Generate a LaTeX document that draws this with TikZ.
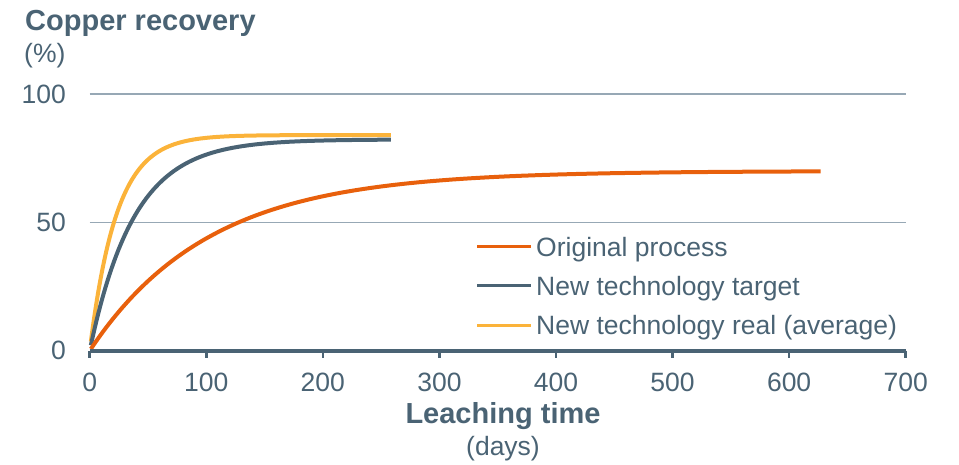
\documentclass[tikz,border=0pt]{standalone}
\usepackage{fontspec}
\setmainfont{Liberation Sans}
\definecolor{slate}{HTML}{4A6374}
\definecolor{rust}{HTML}{E8600C}
\definecolor{amber}{HTML}{FBB33A}
\definecolor{gridgrey}{HTML}{97A8B5}

\begin{document}
\begin{tikzpicture}[x=1pt,y=-1pt,
	every node/.style={text=slate,inner sep=0pt},
	label text/.style={font=\fontsize{26.5}{30}\selectfont},
	head text/.style={font=\fontsize{29}{33}\selectfont\bfseries},
	grid line/.style={draw=gridgrey,line width=1.5pt},
	axis line/.style={draw=slate,line width=4pt},
	tick line/.style={draw=slate,line width=2.5pt},
	curve/.style={line width=4pt},
	key line/.style={line width=3pt}]
\useasboundingbox (0,0) rectangle (959,465);
\node[head text,anchor=base west] (ytitle) at (25,31) {Copper recovery};
\node[label text,anchor=base west] (yunit) at (24,63) {(\%)};
\node[head text,anchor=base] (xtitle) at (503,423) {Leaching time};
\node[label text,anchor=base] (xunit) at (503,455) {(days)};
\begin{scope}[shift={(89.7,350.7)},x=1.1657pt,y=2.567pt]
	\foreach \v in {50,100}
		\draw[grid line] (0,\v) -- (700,\v);
	\foreach \v in {0,50,100}
		\node[label text,anchor=east] (y\v) at ([xshift=-23.7pt]0,\v) {\v};
	\draw[curve,draw=amber] plot[domain=1:258.4,samples=120,smooth]
		(\x,{84*(1-exp(-\x/23))});
	\draw[curve,draw=slate] plot[domain=1:258.4,samples=120,smooth]
		(\x,{82.3*(1-exp(-\x/38))});
	\draw[curve,draw=rust] plot[domain=1:627,samples=150,smooth]
		(\x,{70*(1-exp(-\x/102))});
	\draw[axis line] (0,0) -- (700,0);
	\foreach \t in {0,100,...,700} {
		\draw[tick line] (\t,0) -- ++(0,-7.5pt);
		\node[label text,anchor=north] (x\t) at ([yshift=-21.8pt]\t,0) {\t};
	}
\end{scope}
\foreach \name/\col/\row in {Original process/rust/0,
		New technology target/slate/1,
		New technology real (average)/amber/2} {
	\coordinate (key\row) at (477,246.7+39.3*\row);
	\draw[key line,draw=\col] (key\row) -- ++(54,0);
	\node[label text,anchor=base west] (entry\row) at ([xshift=59pt,yshift=-9.5pt]key\row) {\name};
}
\end{tikzpicture}
\end{document}
